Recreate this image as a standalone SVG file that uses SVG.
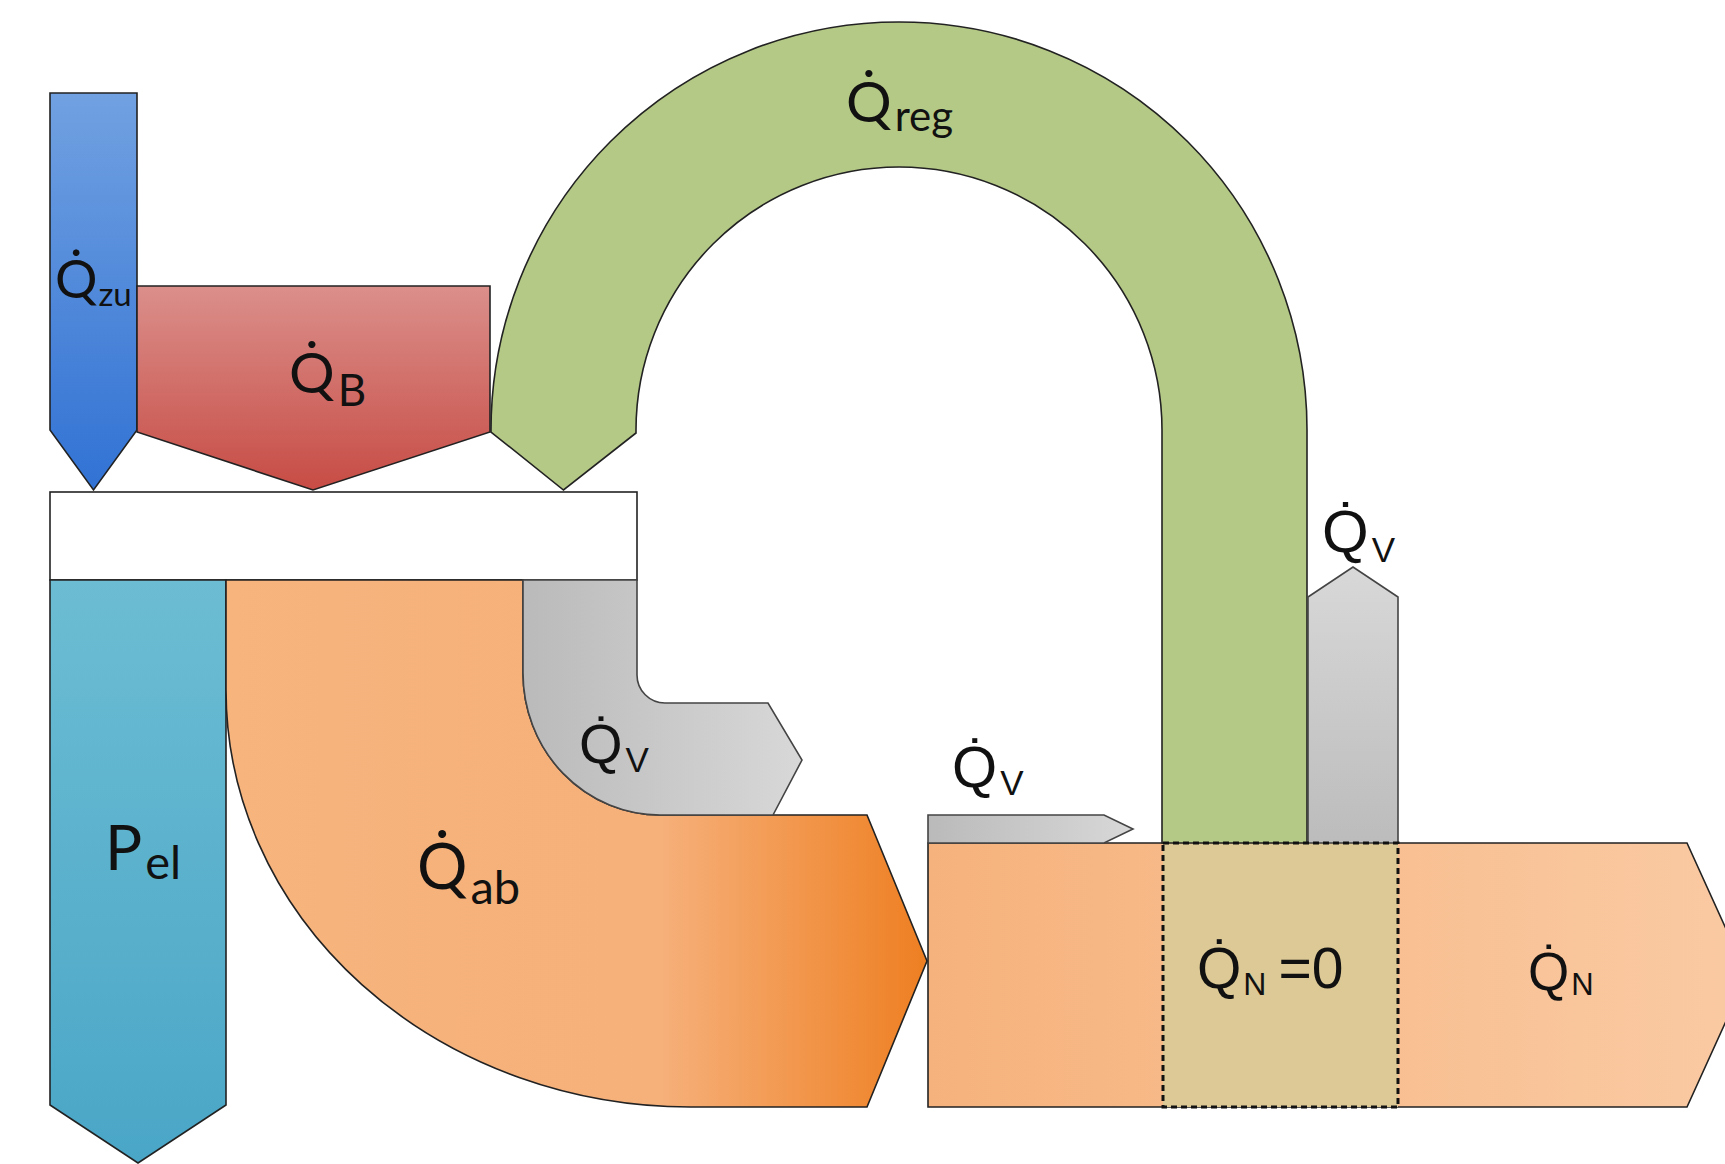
<svg xmlns="http://www.w3.org/2000/svg" width="1725" height="1164" viewBox="0 0 1725 1164">
  <style>
    .edge { stroke: #222; stroke-width: 1.6; stroke-linejoin: miter; }
    .gedge { stroke: #444; stroke-width: 1.6; }
    .cal { font-family: "Lato", "Liberation Sans", sans-serif; fill: #111; }
    .ari { font-family: "Liberation Sans", Arial, sans-serif; fill: #111; }
  </style>
  <defs>
    <linearGradient id="gBlue" x1="0" y1="0" x2="0" y2="1">
      <stop offset="0" stop-color="#71a1e1"/>
      <stop offset="1" stop-color="#3172d4"/>
    </linearGradient>
    <linearGradient id="gRed" x1="0" y1="0" x2="0" y2="1">
      <stop offset="0" stop-color="#db8f8b"/>
      <stop offset="1" stop-color="#c74c45"/>
    </linearGradient>
    <linearGradient id="gPel" x1="0" y1="0" x2="0" y2="1">
      <stop offset="0" stop-color="#6cbdd3"/>
      <stop offset="1" stop-color="#4aa6c7"/>
    </linearGradient>
    <linearGradient id="gAb" gradientUnits="userSpaceOnUse" x1="226" y1="0" x2="927" y2="0">
      <stop offset="0" stop-color="#f7b47d"/>
      <stop offset="0.62" stop-color="#f6b07a"/>
      <stop offset="1" stop-color="#ee7f22"/>
    </linearGradient>
    <linearGradient id="gOut" gradientUnits="userSpaceOnUse" x1="928" y1="0" x2="1747" y2="0">
      <stop offset="0" stop-color="#f6b27c"/>
      <stop offset="1" stop-color="#facaa3"/>
    </linearGradient>
    <linearGradient id="gGrayH" x1="0" y1="0" x2="1" y2="0">
      <stop offset="0" stop-color="#bababa"/>
      <stop offset="1" stop-color="#d8d8d8"/>
    </linearGradient>
    <linearGradient id="gGrayV" x1="0" y1="0" x2="0" y2="1">
      <stop offset="0" stop-color="#d8d8d8"/>
      <stop offset="1" stop-color="#bcbcbc"/>
    </linearGradient>
  </defs>

  <!-- output flow to the right (drawn first, the storage box sits on it) -->
  <g id="node-qn">
    <path class="edge" fill="url(#gOut)" d="M928,843 L1687,843 L1747,975 L1687,1107 L928,1107 Z"/>
    <rect x="1163" y="843" width="235" height="264" fill="#dcc995"/>
    <text class="ari" x="1528" y="990" font-size="53">Q̇<tspan font-size="31" dx="2" dy="5">N</tspan></text>
  </g>

  <!-- supplied heat -->
  <g id="node-qzu">
    <path class="edge" fill="url(#gBlue)" d="M50,93 L137,93 L137,430 L93.5,490 L50,430 Z"/>
    <text class="cal" x="55" y="298" font-size="53">Q̇<tspan font-size="33" dx="1" dy="8">zu</tspan></text>
  </g>

  <!-- fuel heat -->
  <g id="node-qb">
    <path class="edge" fill="url(#gRed)" d="M137,286 L490,286 L490,432 L313,490 L137,432 Z"/>
    <text class="cal" x="289" y="393" font-size="57">Q̇<tspan font-size="44" dx="3" dy="13">B</tspan></text>
  </g>

  <!-- regenerated heat, arch from the storage back to the machine -->
  <g id="node-qreg">
    <path class="edge" fill="#b5c986" d="M491,430 A408,408 0 0 1 1307,430 L1307,843 L1162,843 L1162,430 A263,263 0 0 0 636,430 L636,433 L563.5,490 L491,432 Z"/>
    <text class="cal" x="846" y="122" font-size="57">Q̇<tspan font-size="42" dx="3" dy="9">reg</tspan></text>
  </g>

  <!-- machine block -->
  <g id="node-machine">
    <rect class="edge" x="50" y="492" width="587" height="88" fill="#ffffff" stroke-width="2"/>
  </g>

  <!-- electric power -->
  <g id="node-pel">
    <path class="edge" fill="url(#gPel)" d="M50,580 L226,580 L226,1105 L138,1163 L50,1105 Z"/>
    <text class="cal" x="105" y="870" font-size="62">P<tspan font-size="47" dx="3" dy="9">el</tspan></text>
  </g>

  <!-- discharged heat -->
  <g id="node-qab">
    <path class="edge" fill="url(#gAb)" d="M226,580 L523,580 L523,673 A137,142 0 0 0 660,815 L867,815 L927,961 L867,1107 L690,1107 A465,417 0 0 1 226,690 Z"/>
    <text class="cal" x="417" y="889" font-size="63">Q̇<tspan font-size="47" dx="3" dy="15">ab</tspan></text>
  </g>

  <!-- loss from the machine -->
  <g id="node-qv1">
    <path class="gedge" fill="url(#gGrayH)" d="M523,580 L637,580 L637,675 A28,28 0 0 0 665,703 L768,703 L802,760 L773,815 L660,815 A137,142 0 0 1 523,673 Z"/>
    <text class="ari" x="579" y="763" font-size="56">Q̇<tspan font-size="35" dx="3" dy="9">V</tspan></text>
  </g>

  <!-- loss along the output line -->
  <g id="node-qv2">
    <path class="gedge" fill="url(#gGrayH)" d="M928,815 L1104,815 L1133,829 L1104,843 L928,843 Z"/>
    <text class="ari" x="952" y="787" font-size="58">Q̇<tspan font-size="35" dx="3" dy="8">V</tspan></text>
  </g>

  <!-- loss from the storage -->
  <g id="node-qv3">
    <path class="gedge" fill="url(#gGrayV)" d="M1308,843 L1308,597 L1353,567 L1398,597 L1398,843 Z"/>
    <text class="ari" x="1322" y="552" font-size="60">Q̇<tspan font-size="35" dx="3" dy="10">V</tspan></text>
  </g>

  <!-- storage balance box -->
  <g id="node-storage">
    <rect x="1163" y="843" width="235" height="264" fill="none" stroke="#111" stroke-width="3" stroke-dasharray="6 4"/>
    <text class="ari" x="1197" y="988" font-size="57">Q̇<tspan font-size="32" dx="2" dy="7">N</tspan><tspan dx="12" dy="-7">=0</tspan></text>
  </g>

  <g id="connectors"/>
</svg>
